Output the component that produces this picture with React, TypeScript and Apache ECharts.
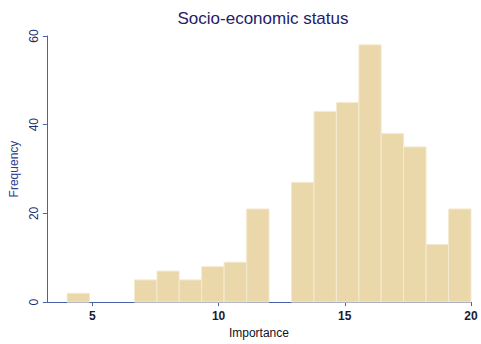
import React, { useEffect, useRef } from "react";
import * as echarts from "echarts";

// Histogram bins (left/right edges) and counts per bin
const binEdges = [4, 4.89, 5.78, 6.67, 7.56, 8.44, 9.33, 10.22, 11.11, 12, 12.89, 13.78, 14.67, 15.56, 16.44, 17.33, 18.22, 19.11, 20];
const frequencies = [2, 0, 0, 5, 7, 5, 8, 9, 21, 0, 27, 43, 45, 58, 38, 35, 13, 21];
const xTickValues = [5, 10, 15, 20];
const yTickValues = [0, 20, 40, 60];

const titleText = "Socio-economic status";
const xName = "Importance";
const yName = "Frequency";

const FONT = "'Liberation Sans', Arial, sans-serif";
const AXIS_COLOR = "#4663a8";
const BAR_COLOR = "#ebd8aa";

export default function App() {
  const ref = useRef<HTMLDivElement>(null);

  useEffect(() => {
    if (!ref.current) return;
    const chart = echarts.init(ref.current, null, { renderer: "svg" });

    const bins = frequencies.map((f, i) => [binEdges[i], binEdges[i + 1], f]);

    chart.setOption({
      animation: false,
      backgroundColor: "#ffffff",
      title: {
        text: titleText,
        left: 258,
        top: 5,
        textAlign: "center",
        textStyle: { fontFamily: FONT, fontSize: 17, fontWeight: "normal", color: "#1e2266" },
      },
      grid: { left: 35, right: 10, top: 36, bottom: 38 },
      xAxis: {
        type: "value",
        min: 3.2,
        max: 20,
        name: xName,
        nameLocation: "middle",
        nameGap: 22,
        nameTextStyle: { fontFamily: FONT, fontSize: 12, color: "#111122" },
        splitLine: { show: false },
        axisLine: { show: true, onZero: false, lineStyle: { color: AXIS_COLOR, width: 1 } },
        axisTick: { show: true, length: 4, customValues: xTickValues, lineStyle: { color: AXIS_COLOR } },
        axisLabel: {
          customValues: xTickValues,
          margin: 8,
          fontFamily: FONT,
          fontSize: 12,
          fontWeight: "bold",
          color: "#1a1a33",
        },
      },
      yAxis: {
        type: "value",
        min: 0,
        max: 60,
        interval: 20,
        name: yName,
        nameLocation: "middle",
        nameGap: 21,
        nameTextStyle: { fontFamily: FONT, fontSize: 12, color: "#2b3f8c" },
        splitLine: { show: false },
        axisLine: { show: true, lineStyle: { color: AXIS_COLOR, width: 1 } },
        axisTick: { show: true, length: 4, customValues: yTickValues, lineStyle: { color: AXIS_COLOR } },
        axisLabel: {
          customValues: yTickValues,
          rotate: 90,
          margin: 7,
          fontFamily: FONT,
          fontSize: 12,
          color: "#22306e",
        },
      },
      series: [
        {
          type: "custom",
          data: bins,
          encode: { x: [0, 1], y: 2 },
          renderItem: (params: any, api: any) => {
            const x0 = api.value(0);
            const x1 = api.value(1);
            const f = api.value(2);
            if (!f) return null;
            const topLeft = api.coord([x0, f]);
            const bottomRight = api.coord([x1, 0]);
            return {
              type: "rect",
              shape: {
                x: topLeft[0],
                y: topLeft[1],
                width: bottomRight[0] - topLeft[0],
                height: bottomRight[1] - topLeft[1],
              },
              style: { fill: BAR_COLOR, stroke: "#f4ead2", lineWidth: 1 },
            };
          },
        },
      ],
    });

    return () => chart.dispose();
  }, []);

  return (
    <div
      ref={ref}
      style={{ position: "fixed", left: 0, top: 0, width: 481, height: 344, background: "#fff" }}
    />
  );
}
